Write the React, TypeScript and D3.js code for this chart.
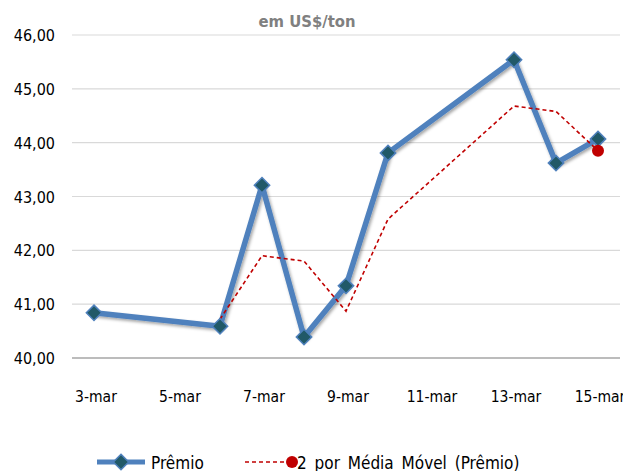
import React, { useRef, useEffect } from "react";
import * as d3 from "d3";

// dias de março
const days = [3, 6, 7, 8, 9, 10, 13, 14, 15];
const premio = [40.84, 40.59, 43.21, 40.39, 41.34, 43.81, 45.54, 43.62, 44.07];

// média móvel de 2 períodos (começa no 2º ponto)
const mmDays = [6, 7, 8, 9, 10, 13, 14, 15];
const mediaMovel = [40.72, 41.9, 41.8, 40.87, 42.58, 44.68, 44.58, 43.85];

const yTicks = [40, 41, 42, 43, 44, 45, 46];
const xTickDays = [3, 5, 7, 9, 11, 13, 15];

const W = 623;
const H = 471;
const FONT = "'DejaVu Sans Condensed', 'Liberation Sans', sans-serif";

const date = (d: number) => new Date(2016, 2, d);

export default function App() {
  const svgRef = useRef<SVGSVGElement>(null);

  useEffect(() => {
    if (!svgRef.current) return;
    const svg = d3.select(svgRef.current);
    svg.selectAll("*").remove();

    const x = d3.scaleTime().domain([date(3), date(15)]).range([94, 598]);
    const y = d3.scaleLinear().domain([40, 46]).range([358, 35]);
    const left = 72;
    const right = 620;

    // sombra da linha azul
    const defs = svg.append("defs");
    const f = defs
      .append("filter")
      .attr("id", "shadow")
      .attr("x", "-10%")
      .attr("y", "-10%")
      .attr("width", "120%")
      .attr("height", "120%");
    f.append("feDropShadow")
      .attr("dx", 1.5)
      .attr("dy", 2)
      .attr("stdDeviation", 1.5)
      .attr("flood-color", "#000")
      .attr("flood-opacity", 0.35);

    // subtítulo
    svg
      .append("text")
      .attr("x", 307)
      .attr("y", 27)
      .attr("text-anchor", "middle")
      .style("font-family", FONT)
      .style("font-size", "16.5px")
      .style("font-weight", "bold")
      .style("fill", "#808080")
      .text("em US$/ton");

    // grade horizontal
    yTicks.forEach((t) => {
      svg
        .append("line")
        .attr("x1", left)
        .attr("x2", right)
        .attr("y1", y(t))
        .attr("y2", y(t))
        .attr("stroke", t === 40 ? "#a6a6a6" : "#d9d9d9")
        .attr("stroke-width", t === 40 ? 1.5 : 1.2);

      svg
        .append("text")
        .attr("x", 55)
        .attr("y", y(t) + 6)
        .attr("text-anchor", "end")
        .style("font-family", FONT)
        .style("font-size", "16px")
        .style("fill", "#000")
        .text(d3.format(".2f")(t).replace(".", ","));
    });

    // rótulos do eixo x
    xTickDays.forEach((d) => {
      svg
        .append("text")
        .attr("x", x(date(d)) + 2)
        .attr("y", 402)
        .attr("text-anchor", "middle")
        .style("font-family", FONT)
        .style("font-size", "15.5px")
        .style("fill", "#000")
        .text(`${d}-mar`);
    });

    // linha Prêmio
    const line = d3
      .line<number>()
      .x((_, i) => x(date(days[i])))
      .y((v) => y(v));

    svg
      .append("path")
      .attr("d", line(premio))
      .attr("fill", "none")
      .attr("stroke", "#4f81bd")
      .attr("stroke-width", 5.5)
      .attr("stroke-linejoin", "round")
      .attr("filter", "url(#shadow)");

    // média móvel
    const mmLine = d3
      .line<number>()
      .x((_, i) => x(date(mmDays[i])))
      .y((v) => y(v));

    svg
      .append("path")
      .attr("d", mmLine(mediaMovel))
      .attr("fill", "none")
      .attr("stroke", "#c00000")
      .attr("stroke-width", 1.6)
      .attr("stroke-dasharray", "4,3");

    // marcadores losango
    const diamond = d3.symbol().type(d3.symbolDiamond2).size(150)();
    premio.forEach((v, i) => {
      svg
        .append("path")
        .attr("d", diamond)
        .attr("transform", `translate(${x(date(days[i]))},${y(v)})`)
        .attr("fill", "#215968")
        .attr("stroke", "#4f81bd")
        .attr("stroke-width", 1.5);
    });

    // ponto final da média móvel
    const last = mediaMovel.length - 1;
    svg
      .append("circle")
      .attr("cx", x(date(mmDays[last])))
      .attr("cy", y(mediaMovel[last]))
      .attr("r", 6)
      .attr("fill", "#c00000");

    // legenda
    const ly = 462;
    svg
      .append("line")
      .attr("x1", 97)
      .attr("x2", 145)
      .attr("y1", ly)
      .attr("y2", ly)
      .attr("stroke", "#4f81bd")
      .attr("stroke-width", 5);
    svg
      .append("path")
      .attr("d", diamond)
      .attr("transform", `translate(121,${ly})`)
      .attr("fill", "#215968")
      .attr("stroke", "#4f81bd")
      .attr("stroke-width", 1.5);
    svg
      .append("text")
      .attr("x", 151)
      .attr("y", ly + 7)
      .style("font-family", FONT)
      .style("font-size", "17px")
      .style("fill", "#000")
      .text("Prêmio");

    svg
      .append("line")
      .attr("x1", 245)
      .attr("x2", 292)
      .attr("y1", ly)
      .attr("y2", ly)
      .attr("stroke", "#c00000")
      .attr("stroke-width", 1.5)
      .attr("stroke-dasharray", "4,3");
    svg
      .append("circle")
      .attr("cx", 292)
      .attr("cy", ly)
      .attr("r", 6)
      .attr("fill", "#c00000");
    svg
      .append("text")
      .attr("x", 297)
      .attr("y", ly + 7)
      .style("font-family", FONT)
      .style("font-size", "17px")
      .style("fill", "#000")
      .style("word-spacing", "3px")
      .text("2 por Média Móvel (Prêmio)");
  }, []);

  return (
    <svg
      ref={svgRef}
      width={W}
      height={H}
      viewBox={`0 0 ${W} ${H}`}
      style={{ position: "absolute", left: 0, top: 0, background: "#fff" }}
    />
  );
}
